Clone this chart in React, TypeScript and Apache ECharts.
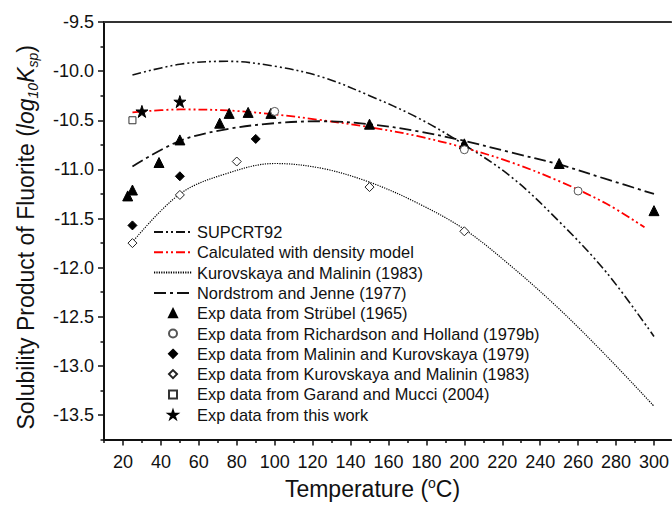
import React, { useEffect, useRef } from "react";
import * as echarts from "echarts";

// ---- data ----
const lineT = [25, 50, 75, 100, 125, 150, 175, 200, 225, 250, 275, 300];
const supcrtV = [-10.04, -9.93, -9.9, -9.95, -10.06, -10.25, -10.47, -10.75, -11.08, -11.53, -12.05, -12.7];
const densityT = [25, 50, 75, 100, 125, 150, 175, 200, 225, 250, 275, 295];
const densityV = [-10.42, -10.39, -10.4, -10.44, -10.5, -10.57, -10.66, -10.78, -10.93, -11.12, -11.35, -11.59];
const kurLineV = [-11.74, -11.25, -11.04, -10.94, -10.99, -11.13, -11.34, -11.61, -11.99, -12.42, -12.9, -13.41];
const nordV = [-10.97, -10.71, -10.59, -10.53, -10.51, -10.54, -10.61, -10.71, -10.83, -10.95, -11.1, -11.25];

const strubelT = [22.5, 25, 39, 50, 71, 76, 86, 98, 150, 200, 250, 300];
const strubelV = [-11.27, -11.21, -10.93, -10.7, -10.53, -10.43, -10.42, -10.43, -10.54, -10.74, -10.94, -11.42];
const richT = [100, 200, 260];
const richV = [-10.41, -10.8, -11.22];
const malT = [25, 50, 90];
const malV = [-11.57, -11.07, -10.69];
const kurT = [25, 50, 80, 150, 200];
const kurV = [-11.75, -11.26, -10.92, -11.18, -11.63];
const garT = [25];
const garV = [-10.5];
const workT = [30, 50];
const workV = [-10.41, -10.31];

const xTicks = [20, 40, 60, 80, 100, 120, 140, 160, 180, 200, 220, 240, 260, 280, 300];
const xMinorTicks = [10, 30, 50, 70, 90, 110, 130, 150, 170, 190, 210, 230, 250, 270, 290];
const yTicks = [-13.5, -13.0, -12.5, -12.0, -11.5, -11.0, -10.5, -10.0, -9.5];
const yMinorTicks = [-13.75, -13.25, -12.75, -12.25, -11.75, -11.25, -10.75, -10.25, -9.75];

const names = [
  "SUPCRT92",
  "Calculated with density model",
  "Kurovskaya and Malinin (1983)",
  "Nordstrom and Jenne (1977)",
  "Exp data from Strübel (1965)",
  "Exp data from Richardson and Holland (1979b)",
  "Exp data from Malinin and Kurovskaya (1979)",
  "Exp data from Kurovskaya and Malinin (1983)",
  "Exp data from Garand and Mucci (2004)",
  "Exp data from this work",
];

const SYM_TRIANGLE = "path://M5,0 L10,10 L0,10 Z";
const SYM_CIRCLE = "path://M10,5 A5,5 0 1,1 0,5 A5,5 0 1,1 10,5 Z";
const SYM_DIAMOND = "path://M5,0 L10,5 L5,10 L0,5 Z";
const SYM_SQUARE = "path://M0,0 L10,0 L10,10 L0,10 Z";
const SYM_STAR = "path://M50,0 L61.8,35.1 L98.9,35.1 L68.8,56.8 L80.2,91.9 L50,70.2 L19.8,91.9 L31.2,56.8 L1.1,35.1 L38.2,35.1 Z";

const zip = (xs: number[], ys: number[]) => xs.map((x, i) => [x, ys[i]]);
const FONT = "'Liberation Sans', Arial, sans-serif";
const X_MIN = 10;
const X_MAX = 309;
const Y_MIN = -13.75;
const Y_MAX = -9.5;

export default function App() {
  const ref = useRef<HTMLDivElement>(null);
  useEffect(() => {
    if (!ref.current) return;
    const chart = echarts.init(ref.current, null, { renderer: "svg" });
    const lineSeries = (name: string, data: number[][], color: string, type: any, width: number) => ({
      name,
      type: "line",
      data,
      smooth: 0.35,
      symbol: "circle",
      showSymbol: false,
      xAxisIndex: 0,
      yAxisIndex: 0,
      lineStyle: { color, width, type },
      itemStyle: { color: "rgba(0,0,0,0)", borderWidth: 0 },
      emphasis: { disabled: true },
      z: 2,
    });
    const scatter = (name: string, data: number[][], symbol: string, size: number, fill: string, stroke: string) => ({
      name,
      type: "scatter",
      data,
      symbol,
      symbolSize: size,
      xAxisIndex: 0,
      yAxisIndex: 0,
      itemStyle: { color: fill, borderColor: stroke, borderWidth: 1, opacity: 1 },
      z: 5,
    });
    chart.setOption({
      animation: false,
      backgroundColor: "#ffffff",
      textStyle: { fontFamily: FONT },
      grid: { left: 104, right: 0, top: 22, bottom: 62 },
      legend: {
        orient: "vertical",
        left: 153,
        top: 224,
        padding: 0,
        itemWidth: 38,
        itemHeight: 8,
        itemGap: 4.3,
        selectedMode: false,
        symbolKeepAspect: true,
        textStyle: { fontSize: 16.4, lineHeight: 16, color: "#111", fontFamily: FONT },
        data: names,
      },
      xAxis: [
        {
          type: "value",
          min: X_MIN,
          max: X_MAX,
          position: "bottom",
          axisLine: { show: true, lineStyle: { color: "#111", width: 2 } },
          axisTick: { show: true, customValues: xTicks, length: 6, lineStyle: { color: "#111", width: 1.5 } },
          axisLabel: { customValues: xTicks, fontSize: 18, color: "#111", margin: 13, fontFamily: FONT },
          splitLine: { show: false },
          name: "Temperature ({sup|o}C)",
          nameLocation: "middle",
          nameGap: 34,
          nameTextStyle: {
            fontSize: 23,
            color: "#111",
            fontFamily: FONT,
            padding: [0, 30, 0, 0],
            rich: { sup: { fontSize: 14, verticalAlign: "top", lineHeight: 26, color: "#111", fontFamily: FONT } },
          },
        },
        {
          type: "value",
          min: X_MIN,
          max: X_MAX,
          position: "bottom",
          axisLine: { show: false },
          axisTick: { show: true, customValues: xMinorTicks, length: 3.5, lineStyle: { color: "#111", width: 1.5 } },
          axisLabel: { show: false },
          splitLine: { show: false },
        },
        {
          type: "value",
          min: X_MIN,
          max: X_MAX,
          position: "top",
          axisLine: { show: true, lineStyle: { color: "#333", width: 2 } },
          axisTick: { show: false },
          axisLabel: { show: false },
          splitLine: { show: false },
        },
      ],
      yAxis: [
        {
          type: "value",
          min: Y_MIN,
          max: Y_MAX,
          position: "left",
          axisLine: { show: true, lineStyle: { color: "#111", width: 2 } },
          axisTick: { show: true, customValues: yTicks, length: 6, lineStyle: { color: "#111", width: 1.5 } },
          axisLabel: {
            customValues: yTicks,
            fontSize: 18,
            color: "#111",
            margin: 10,
            fontFamily: FONT,
            formatter: (v: number) => v.toFixed(1),
          },
          splitLine: { show: false },
          name: "Solubility Product of Fluorite ({it|log}{sub|10}{it|K}{sub|sp})",
          nameLocation: "middle",
          nameGap: 64,
          nameTextStyle: {
            fontSize: 23,
            color: "#111",
            fontFamily: FONT,
            padding: [0, 13, 0, 0],
            rich: {
              it: { fontSize: 23, fontStyle: "italic", color: "#111", fontFamily: FONT },
              sub: { fontSize: 14, fontStyle: "italic", verticalAlign: "bottom", lineHeight: 28, color: "#111", fontFamily: FONT },
            },
          },
        },
        {
          type: "value",
          min: Y_MIN,
          max: Y_MAX,
          position: "left",
          axisLine: { show: false },
          axisTick: { show: true, customValues: yMinorTicks, length: 3.5, lineStyle: { color: "#111", width: 1.5 } },
          axisLabel: { show: false },
          splitLine: { show: false },
        },
      ],
      series: [
        lineSeries(names[0], zip(lineT, supcrtV), "#111", [9, 3, 2, 3, 2, 3], 1.6),
        lineSeries(names[1], zip(densityT, densityV), "#ff0000", [9, 3, 2, 3, 2, 3], 1.8),
        lineSeries(names[2], zip(lineT, kurLineV), "#000", [1.2, 1.2], 1.2),
        lineSeries(names[3], zip(lineT, nordV), "#111", [12, 4, 3, 4], 1.8),
        scatter(names[4], zip(strubelT, strubelV), SYM_TRIANGLE, 10, "#000", "#000"),
        scatter(names[5], zip(richT, richV), SYM_CIRCLE, 8, "#fff", "#555"),
        scatter(names[6], zip(malT, malV), SYM_DIAMOND, 9, "#000", "#000"),
        scatter(names[7], zip(kurT, kurV), SYM_DIAMOND, 9, "#fff", "#222"),
        scatter(names[8], zip(garT, garV), SYM_SQUARE, 7, "#fff", "#333"),
        scatter(names[9], zip(workT, workV), SYM_STAR, 12, "#000", "#000"),
      ],
    });
    return () => chart.dispose();
  }, []);
  return (
    <div
      ref={ref}
      style={{ position: "absolute", left: 0, top: 0, width: 672, height: 505, background: "#fff" }}
    />
  );
}
